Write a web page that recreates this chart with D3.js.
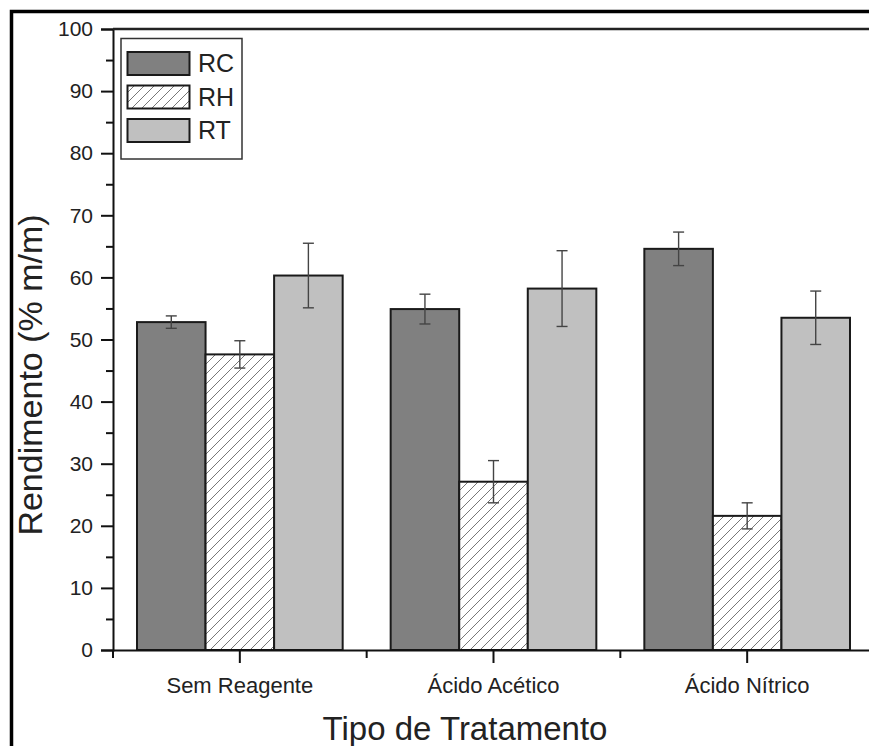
<!DOCTYPE html>
<html>
<head>
<meta charset="utf-8">
<script src="https://cdn.jsdelivr.net/npm/d3@7"></script>
<style>
  html, body { margin: 0; padding: 0; background: #fff; }
  svg { display: block; }
</style>
</head>
<body>
<svg id="chart" width="869" height="746"></svg>
<script>
const categories = ["Sem Reagente", "Ácido Acético", "Ácido Nítrico"];
const seriesNames = ["RC", "RH", "RT"];
const rcValues = [52.8, 54.9, 64.6];
const rcErrors = [1.0, 2.4, 2.7];
const rhValues = [47.6, 27.1, 21.6];
const rhErrors = [2.2, 3.4, 2.1];
const rtValues = [60.3, 58.2, 53.5];
const rtErrors = [5.2, 6.1, 4.3];
const yMajorTicks = [0, 10, 20, 30, 40, 50, 60, 70, 80, 90, 100];
const yMinorTicks = [5, 15, 25, 35, 45, 55, 65, 75, 85, 95];
const yLabel = "Rendimento (% m/m)";
const xLabel = "Tipo de Tratamento";

const FONT = "'Liberation Sans', Arial, sans-serif";
const seriesValues = [rcValues, rhValues, rtValues];
const seriesErrors = [rcErrors, rhErrors, rtErrors];
const seriesFill = ["#808080", "url(#hatch)", "#c0c0c0"];

const svg = d3.select("#chart").attr("font-family", FONT);
const W = 869, H = 746;

const defs = svg.append("defs");
const pat = defs.append("pattern").attr("id", "hatch")
  .attr("patternUnits", "userSpaceOnUse").attr("width", 10).attr("height", 10);
pat.append("rect").attr("width", 10).attr("height", 10).attr("fill", "#fff");
pat.append("path").attr("d", "M-2,2 L2,-2 M0,10 L10,0 M8,12 L12,8")
  .attr("stroke", "#777").attr("stroke-width", 1);

// outer frame
svg.append("rect").attr("x", 11.5).attr("y", 11.5).attr("width", W + 20).attr("height", H + 20)
  .attr("fill", "none").attr("stroke", "#000").attr("stroke-width", 3.5);

const pLeft = 113, pTop = 29, pBottom = 650, pRight = 874;
const x = d3.scaleBand().domain(categories).range([pLeft, pRight]).paddingInner(0).paddingOuter(0);
const groupPad = 24;
const xs = d3.scaleBand().domain(seriesNames)
  .range([groupPad, x.bandwidth() - groupPad]).padding(0);
const y = d3.scaleLinear().domain([0, 100]).range([pBottom, pTop]);

// bars
const data = [];
categories.forEach((c, i) => {
  seriesNames.forEach((s, j) => {
    data.push({ c, s, j, v: seriesValues[j][i], e: seriesErrors[j][i] });
  });
});

const bars = svg.append("g");
bars.selectAll("rect").data(data).enter().append("rect")
  .attr("x", d => x(d.c) + xs(d.s))
  .attr("y", d => y(d.v))
  .attr("width", xs.bandwidth())
  .attr("height", d => y(0) - y(d.v))
  .attr("fill", d => seriesFill[d.j])
  .attr("stroke", "#1a1a1a").attr("stroke-width", 2);

// error bars
const eb = svg.append("g").attr("stroke", "#444").attr("stroke-width", 1.4);
data.forEach(d => {
  const cx = x(d.c) + xs(d.s) + xs.bandwidth() / 2;
  const y1 = y(d.v + d.e), y2 = y(d.v - d.e);
  eb.append("line").attr("x1", cx).attr("x2", cx).attr("y1", y1).attr("y2", y2);
  eb.append("line").attr("x1", cx - 5.5).attr("x2", cx + 5.5).attr("y1", y1).attr("y2", y1);
  eb.append("line").attr("x1", cx - 5.5).attr("x2", cx + 5.5).attr("y1", y2).attr("y2", y2);
});

// Y axis
const yAxis = svg.append("g").attr("transform", `translate(${pLeft},0)`)
  .call(d3.axisLeft(y).tickValues(yMajorTicks).tickSize(12).tickPadding(8).tickFormat(d3.format("d")));
yAxis.attr("font-family", FONT);
yAxis.select(".domain").attr("stroke", "#111").attr("stroke-width", 2);
yAxis.selectAll(".tick line").attr("stroke", "#111").attr("stroke-width", 2);
yAxis.selectAll(".tick text").attr("font-size", 21).attr("fill", "#222");
const yMinor = svg.append("g").attr("transform", `translate(${pLeft},0)`)
  .call(d3.axisLeft(y).tickValues(yMinorTicks).tickSize(7).tickFormat(""));
yMinor.select(".domain").remove();
yMinor.selectAll(".tick line").attr("stroke", "#111").attr("stroke-width", 2);

// X axis
const xAxis = svg.append("g").attr("transform", `translate(0,${pBottom})`)
  .call(d3.axisBottom(x).tickSize(13).tickPadding(14).tickSizeOuter(0));
xAxis.attr("font-family", FONT);
xAxis.select(".domain").attr("stroke", "#111").attr("stroke-width", 2);
xAxis.selectAll(".tick line").attr("stroke", "#111").attr("stroke-width", 2);
xAxis.selectAll(".tick text").attr("font-size", 22).attr("fill", "#222");
// minor x ticks at band boundaries
const bounds = [x.range()[0]].concat(categories.map(c => x(c) + x.bandwidth()));
svg.append("g").selectAll("line").data(bounds).enter().append("line")
  .attr("x1", d => d).attr("x2", d => d).attr("y1", pBottom).attr("y2", pBottom + 8)
  .attr("stroke", "#111").attr("stroke-width", 2);

// top frame line
svg.append("line").attr("x1", pLeft).attr("x2", W).attr("y1", pTop).attr("y2", pTop)
  .attr("stroke", "#222").attr("stroke-width", 2.5);

// axis titles
svg.append("text").attr("transform", `translate(42,375) rotate(-90)`)
  .attr("text-anchor", "middle").attr("font-size", 34).attr("fill", "#222").text(yLabel);
svg.append("text").attr("x", 465).attr("y", 740)
  .attr("text-anchor", "middle").attr("font-size", 33).attr("fill", "#222").text(xLabel);

// legend
const lg = svg.append("g");
lg.append("rect").attr("x", 121).attr("y", 38.5).attr("width", 121).attr("height", 120.5)
  .attr("fill", "#fff").attr("stroke", "#333").attr("stroke-width", 1.5);
seriesNames.forEach((s, j) => {
  const yy = 52 + j * 33.5;
  lg.append("rect").attr("x", 127.5).attr("y", yy).attr("width", 62).attr("height", 23)
    .attr("fill", seriesFill[j]).attr("stroke", "#1a1a1a").attr("stroke-width", 2);
  lg.append("text").attr("x", 198).attr("y", yy + 20).attr("font-size", 25).attr("fill", "#222").text(s);
});
</script>
</body>
</html>
